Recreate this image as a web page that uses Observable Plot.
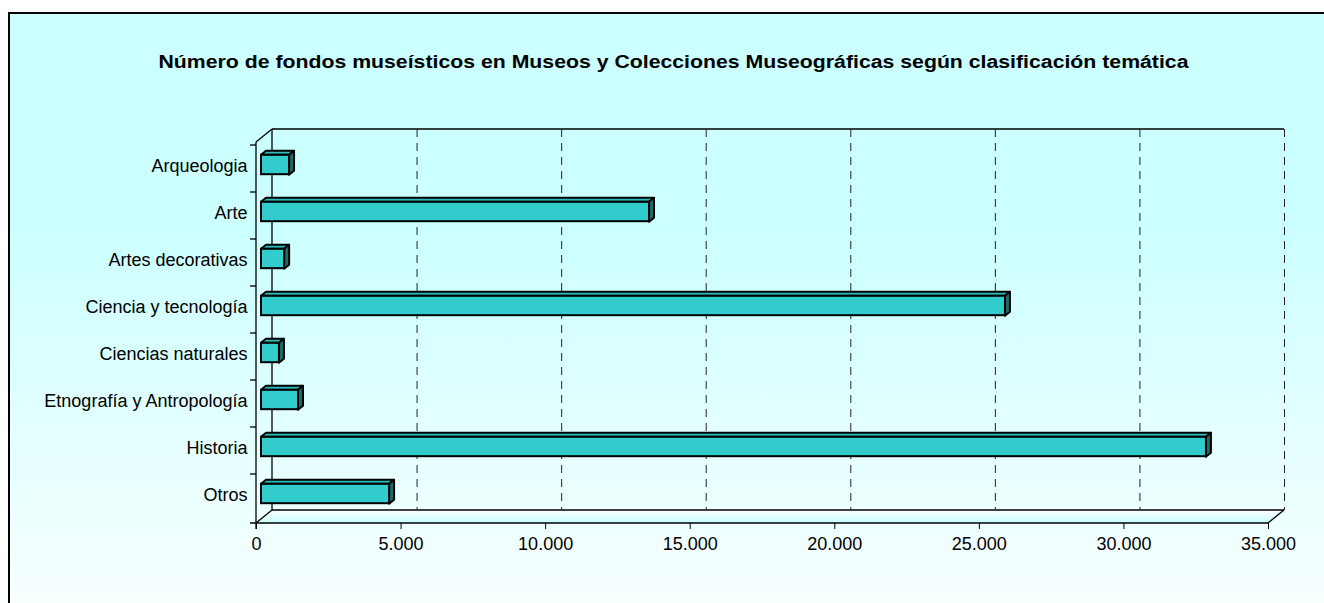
<!DOCTYPE html>
<html><head><meta charset="utf-8">
<script src="https://cdn.jsdelivr.net/npm/d3@7"></script>
<script src="https://cdn.jsdelivr.net/npm/@observablehq/plot@0.6"></script>
<style>
html,body{margin:0;padding:0;background:#fff;width:1324px;height:603px;overflow:hidden;font-family:Arial,"Liberation Sans",sans-serif;}
#bg{position:absolute;left:8px;top:12px;width:1400px;height:700px;border-left:2px solid #000;border-top:2px solid #000;background:linear-gradient(180deg,#CCFFFF 0px,#CCFFFF 220px,#F8FFFF 590px);}
#chart{position:absolute;left:0;top:0;}
</style></head><body>
<div id="bg"></div><div id="chart"></div>
<script>
const title = "Número de fondos museísticos en Museos y Colecciones Museográficas según clasificación temática";
const categories = ["Arqueologia","Arte","Artes decorativas","Ciencia y tecnología","Ciencias naturales","Etnografía y Antropología","Historia","Otros"];
const values = [970, 13420, 800, 25730, 620, 1280, 32680, 4430];
const xTicks = [0, 5000, 10000, 15000, 20000, 25000, 30000, 35000];

const data = categories.map((c, i) => ({cat: c, value: values[i]}));
const fmt = d3.formatLocale({decimal: ",", thousands: ".", grouping: [3], currency: ["", "€"]}).format(",");

const DX = 16, DY = -13;      // depth of the 3D box
const OX = 5, OY = -4;        // bar front face offset into the box
const BX = 5, BY = -4;        // bar depth
const BAR_H = 20;

function bandOf(dims) {
  return (dims.height - dims.marginTop - dims.marginBottom) / categories.length;
}

function box(index, scales, ch, dims) {
  const x0 = scales.x(xTicks[0]), x1 = scales.x(xTicks[xTicks.length - 1]);
  const y0 = dims.marginTop, y1 = dims.height - dims.marginBottom;
  const g = d3.create("svg:g");
  const defs = g.append("defs");
  const lg = defs.append("linearGradient").attr("id", "floorGrad").attr("x1", 0).attr("y1", 0).attr("x2", 0).attr("y2", 1);
  lg.append("stop").attr("offset", "0%").attr("stop-color", "#FFFFFF");
  lg.append("stop").attr("offset", "100%").attr("stop-color", "#C8FFFF");
  g.append("path").attr("d", `M${x0},${y1}L${x1},${y1}L${x1 + DX},${y1 + DY}L${x0 + DX},${y1 + DY}Z`)
    .attr("fill", "url(#floorGrad)").attr("stroke", "none");
  const line = (a, b, c, d) => g.append("line").attr("x1", a).attr("y1", b).attr("x2", c).attr("y2", d)
    .attr("stroke", "#000").attr("stroke-width", 1.3);
  line(x0 + DX, y0 + DY, x1 + DX, y0 + DY);
  line(x0 + DX, y0 + DY, x0 + DX, y1 + DY);
  line(x0 + DX, y1 + DY, x1 + DX, y1 + DY);
  line(x0, y0, x0, y1 + 6);
  line(x0 - 6, y1, x1, y1);
  line(x0, y0, x0 + DX, y0 + DY);
  line(x0, y1, x0 + DX, y1 + DY);
  line(x1, y1, x1 + DX, y1 + DY);
  categories.forEach(c => line(x0 - 6, scales.y(c), x0, scales.y(c)));
  return g.node();
}

function barFaces(index, scales, ch, dims) {
  const bw = bandOf(dims);
  const inset = (bw - BAR_H) / 2;
  const g = d3.create("svg:g").attr("stroke", "#000").attr("stroke-width", 2).attr("stroke-linejoin", "round");
  data.forEach(d => {
    const xa = scales.x(0) + OX, xb = scales.x(d.value) + OX;
    const yt = scales.y(d.cat) + inset + OY, yb = scales.y(d.cat) + bw - inset + OY;
    g.append("path").attr("d", `M${xa},${yt}L${xa + BX},${yt + BY}L${xb + BX},${yt + BY}L${xb},${yt}Z`).attr("fill", "#2DBABA");
    g.append("path").attr("d", `M${xb},${yt}L${xb + BX},${yt + BY}L${xb + BX},${yb + BY}L${xb},${yb}Z`).attr("fill", "#1C6A6A");
  });
  return g.node();
}

const bandInset = ((523 - 142) / categories.length - BAR_H) / 2;

const chart = Plot.plot({
  width: 1324,
  height: 603,
  marginLeft: 256,
  marginRight: 56,
  marginTop: 142,
  marginBottom: 80,
  style: {background: "transparent", fontFamily: "Arial, 'Liberation Sans', sans-serif", fontSize: "18px", color: "#000"},
  x: {domain: [0, 35000], ticks: xTicks, tickFormat: fmt, tickSize: 6, tickPadding: 8, label: null},
  y: {domain: categories, padding: 0, axis: null},
  marks: [
    box,
    Plot.ruleX(xTicks.slice(1), {dx: DX, dy: DY, stroke: "#222", strokeWidth: 1, strokeDasharray: "8,6"}),
    barFaces,
    Plot.barX(data, {y: "cat", x: "value", dx: OX, dy: OY, insetTop: bandInset, insetBottom: bandInset,
      fill: "#33CCCC", stroke: "#000", strokeWidth: 2}),
    Plot.text(categories, {y: d => d, text: d => d, frameAnchor: "left", textAnchor: "end", dx: -9, dy: -3,
      fontSize: 18, fill: "#000"}),
    Plot.text([title], {frameAnchor: "top-left", text: d => d, dx: 673 - 256, dy: -87, textAnchor: "middle",
      fontWeight: "bold", fontSize: 18, fill: "#000", className: "chart-title"})
  ]
});
// the reference title is drawn horizontally stretched
d3.select(chart).selectAll(".chart-title text").attr("textLength", 1030).attr("lengthAdjust", "spacingAndGlyphs");
document.getElementById("chart").appendChild(chart);
</script>
</body></html>
